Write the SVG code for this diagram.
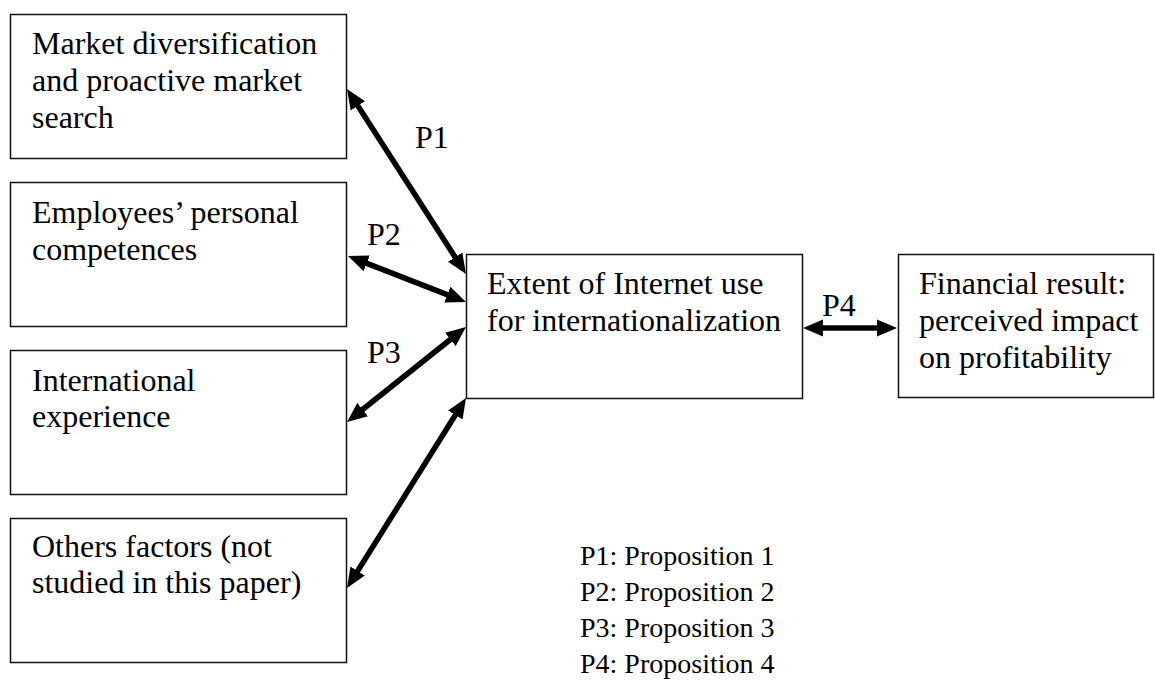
<svg xmlns="http://www.w3.org/2000/svg" width="1155" height="682" viewBox="0 0 1155 682">
<style>
.box{fill:#fff;stroke:#111;stroke-width:1.5}
text{font-family:"Liberation Serif","Times New Roman",serif;font-size:32px;fill:#000}
.leg{font-size:28px}
.con{stroke:#000;stroke-width:5.5;fill:none;marker-start:url(#ah);marker-end:url(#ah)}
</style>
<defs>
<marker id="ah" markerUnits="userSpaceOnUse" markerWidth="21" markerHeight="18" refX="8" refY="8.5" orient="auto-start-reverse" viewBox="0 0 21 17">
<path d="M0,0 L20,8.5 L0,17 z" fill="#000"/>
</marker>
</defs>
<rect width="1155" height="682" fill="#fff"/>
<g id="n1"><rect class="box" x="10.5" y="14.5" width="336" height="144"/>
<text x="32" y="54">Market diversification</text><text x="32" y="91">and proactive market</text><text x="32" y="128">search</text></g>
<g id="n2"><rect class="box" x="10.5" y="182.5" width="336" height="144"/>
<text x="32" y="223">Employees’ personal</text><text x="32" y="260">competences</text></g>
<g id="n3"><rect class="box" x="10.5" y="350.5" width="336" height="144"/>
<text x="32" y="391">International</text><text x="32" y="427">experience</text></g>
<g id="n4"><rect class="box" x="10.5" y="518.5" width="336" height="144"/>
<text x="32" y="557">Others factors (not</text><text x="32" y="593">studied in this paper)</text></g>
<g id="n5"><rect class="box" x="466.5" y="254.5" width="336" height="144"/>
<text x="487" y="294">Extent of Internet use</text><text x="487" y="331">for internationalization</text></g>
<g id="n6"><rect class="box" x="898.5" y="254.5" width="255" height="143"/>
<text x="919" y="294">Financial result:</text><text x="919" y="331">perceived impact</text><text x="919" y="368">on profitability</text></g>
<g id="connectors">
<line class="con" x1="353.5" y1="99.1" x2="459.5" y2="263.9"/>
<line class="con" x1="359.2" y1="260.4" x2="454.8" y2="297.6"/>
<line class="con" x1="456.6" y1="334.5" x2="356.4" y2="414.5"/>
<line class="con" x1="459.6" y1="408.2" x2="353.4" y2="577.8"/>
<line class="con" x1="815" y1="328" x2="885" y2="328"/>
</g>
<g id="labels">
<text x="415" y="148">P1</text>
<text x="367" y="245">P2</text>
<text x="367" y="363">P3</text>
<text x="822" y="316">P4</text>
</g>
<g id="legend">
<text class="leg" x="580" y="565">P1: Proposition 1</text>
<text class="leg" x="580" y="601">P2: Proposition 2</text>
<text class="leg" x="580" y="637">P3: Proposition 3</text>
<text class="leg" x="580" y="673">P4: Proposition 4</text>
</g>
</svg>
